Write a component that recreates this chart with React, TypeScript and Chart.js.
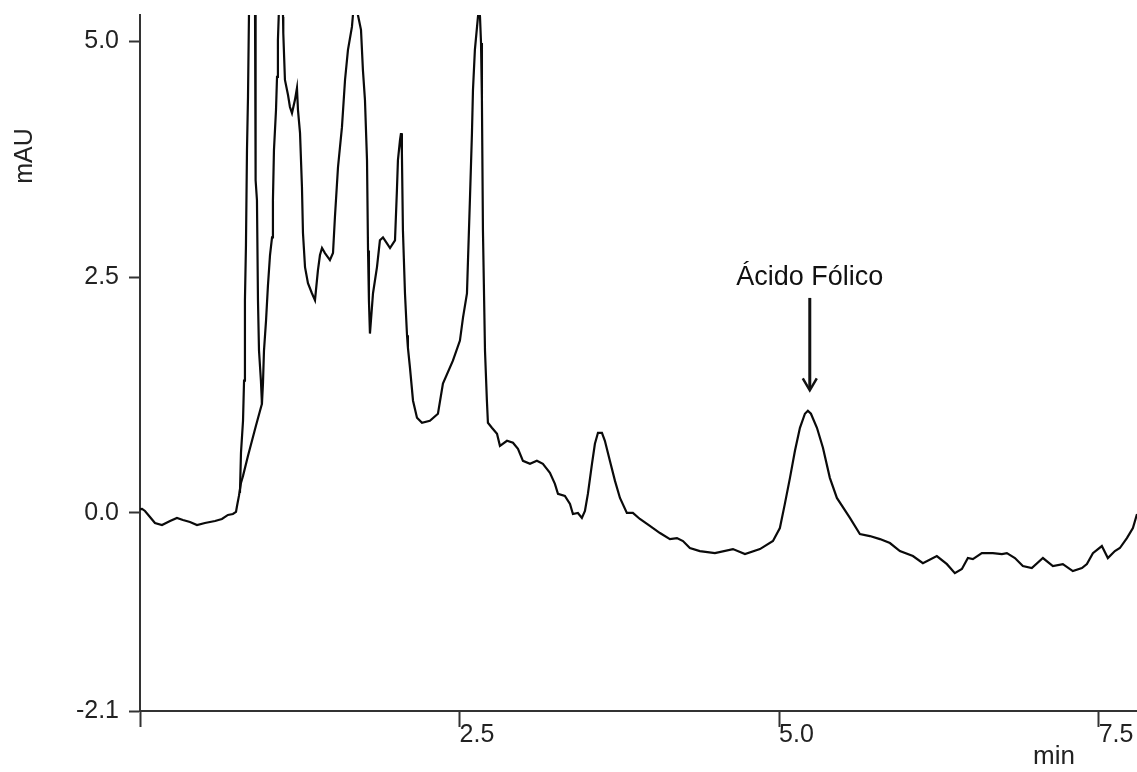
import React, { useEffect, useRef } from "react";
import { Chart, registerables } from "chart.js";

Chart.register(...registerables);

// Main chromatogram trace (retention time in min, absorbance in mAU)
const timeMain: number[] = [
  0.0, 0.016, 0.039, 0.078, 0.117, 0.172, 0.235, 0.289, 0.336, 0.391, 0.446, 0.508, 0.587, 0.641, 0.688, 0.727, 0.751, 0.759, 0.774, 0.79,
  0.806, 0.845, 0.876, 0.907, 0.939, 0.954,
  0.962, 0.97, 0.986, 1.001, 1.017, 1.033, 1.04, 1.048, 1.064, 1.072, 1.079, 1.087, 1.095, 1.111,
  1.119, 1.121, 1.134, 1.158, 1.173, 1.189, 1.212, 1.228, 1.236, 1.252, 1.267, 1.275, 1.291, 1.314, 1.345, 1.369,
  1.392, 1.408, 1.424, 1.447, 1.486, 1.51, 1.525, 1.549, 1.58, 1.604, 1.627, 1.658, 1.666, 1.682,
  1.705, 1.729, 1.744, 1.76, 1.776, 1.784, 1.791, 1.799, 1.823, 1.854, 1.877, 1.901, 1.932, 1.956, 1.995,
  2.01, 2.018, 2.034, 2.042, 2.049, 2.057, 2.073, 2.089, 2.096, 2.112, 2.136, 2.167, 2.206, 2.268, 2.331,
  2.37, 2.448, 2.503, 2.527, 2.558, 2.566, 2.581, 2.597, 2.605, 2.62, 2.644, 2.652, 2.66, 2.668, 2.675,
  2.683, 2.699, 2.714, 2.722, 2.753, 2.793, 2.816, 2.871, 2.918, 2.957, 2.996, 3.051, 3.105, 3.152, 3.207,
  3.246, 3.27, 3.324, 3.364, 3.387, 3.426, 3.457, 3.481, 3.504, 3.536, 3.559, 3.583, 3.614, 3.637, 3.676,
  3.716, 3.755, 3.809, 3.856, 3.911, 3.989, 4.068, 4.146, 4.201, 4.248, 4.302, 4.38, 4.498, 4.639, 4.733,
  4.85, 4.952, 5.006, 5.045, 5.085, 5.124, 5.163, 5.202, 5.225, 5.249, 5.296, 5.343, 5.397, 5.452, 5.554,
  5.632, 5.71, 5.789, 5.867, 5.945, 6.047, 6.125, 6.234, 6.313, 6.375, 6.43, 6.477, 6.516, 6.586, 6.672,
  6.743, 6.782, 6.845, 6.907, 6.977, 7.064, 7.142, 7.22, 7.298, 7.369, 7.408, 7.455, 7.525, 7.572, 7.627,
  7.666, 7.721, 7.768, 7.8,
];
const absMain: number[] = [
  0.04, 0.043, 0.021, -0.043, -0.106, -0.128, -0.085, -0.053, -0.074, -0.096, -0.128, -0.106, -0.085, -0.064, -0.021, -0.011, 0.011, 0.074, 0.181, 0.319,
  0.393, 0.606, 0.765, 0.925, 1.084, 1.158,
  1.371, 1.722, 2.04, 2.412, 2.731, 2.922, 3.316, 3.847, 4.272, 4.623, 5.016, 5.335, 5.6, 5.6,
  5.26, 5.09, 4.591, 4.431, 4.304, 4.24, 4.378, 4.506, 4.272, 4.027, 3.458, 2.969, 2.607, 2.437, 2.33, 2.256,
  2.573, 2.735, 2.809, 2.756, 2.682, 2.756, 3.135, 3.666, 4.091, 4.591, 4.91, 5.154, 5.28, 5.5,
  5.28, 5.122, 4.697, 4.378, 3.741, 2.784, 2.253, 1.902, 2.33, 2.607, 2.891, 2.922, 2.859, 2.809, 2.891,
  3.422, 3.741, 3.953, 4.027, 3.815, 2.997, 2.33, 1.884, 1.753, 1.541, 1.19, 1.01, 0.956, 0.978, 1.052,
  1.371, 1.615, 1.828, 2.072, 2.327, 2.678, 3.316, 4.027, 4.485, 4.91, 5.26, 5.36, 5.26, 4.984, 4.378,
  2.997, 1.722, 1.19, 0.956, 0.903, 0.84, 0.712, 0.765, 0.744, 0.68, 0.553, 0.521, 0.553, 0.521, 0.425,
  0.308, 0.202, 0.181, 0.096, -0.011, 0.0, -0.053, 0.021, 0.202, 0.521, 0.733, 0.85, 0.85, 0.765, 0.553,
  0.34, 0.159, 0.0, 0.0, -0.064, -0.138, -0.213, -0.277, -0.266, -0.298, -0.372, -0.404, -0.426, -0.383, -0.436,
  -0.383, -0.298, -0.16, 0.096, 0.372, 0.659, 0.903, 1.052, 1.084, 1.052, 0.903, 0.691, 0.372, 0.159, -0.053,
  -0.223, -0.245, -0.277, -0.319, -0.404, -0.457, -0.532, -0.457, -0.543, -0.638, -0.595, -0.478, -0.489, -0.426, -0.426,
  -0.436, -0.426, -0.478, -0.563, -0.584, -0.478, -0.563, -0.542, -0.616, -0.584, -0.542, -0.426, -0.351, -0.478, -0.404,
  -0.372, -0.266, -0.16, -0.011,
];

// Narrow first peak drawn over the rising edge
const timePeak1: number[] = [0.782, 0.79, 0.806, 0.814, 0.821, 0.829, 0.837, 0.845, 0.853, 0.86, 0.884, 0.9, 0.902, 0.907, 0.915, 0.923, 0.931, 0.946, 0.954];
const absPeak1: number[] = [0.213, 0.638, 0.978, 1.403, 2.256, 2.841, 3.847, 4.416, 5.34, 6.0, 6.0, 5.28, 4.378, 3.528, 3.316, 2.253, 1.722, 1.403, 1.158];

const xTicks: number[] = [0, 2.5, 5.0, 7.5];
const xTickLabels: string[] = ["", "2.5", "5.0", "7.5"];
const yTicks: number[] = [-2.1, 0.0, 2.5, 5.0];
const yTickLabels: string[] = ["-2.1", "0.0", "2.5", "5.0"];

const annotationText = "Ácido Fólico";
const annotationTime = 5.24;
const annotationTextAbs = 2.42;
const arrowTopAbs = 2.28;
const arrowTipAbs = 1.3;

const yTitle = "mAU";
const xTitle = "min";

const FONT = "'Liberation Sans', Arial, sans-serif";

export default function App() {
  const ref = useRef<HTMLCanvasElement | null>(null);

  useEffect(() => {
    if (!ref.current) return;
    const mainData = timeMain.map((t, i) => ({ x: t, y: absMain[i] }));
    const peakData = timePeak1.map((t, i) => ({ x: t, y: absPeak1[i] }));

    const overlay = {
      id: "overlay",
      afterDraw(chart: any) {
        const ctx = chart.ctx;
        const xs = chart.scales.x;
        const ys = chart.scales.y;
        ctx.save();
        ctx.fillStyle = "#111";
        ctx.strokeStyle = "#111";
        // annotation
        const ax = xs.getPixelForValue(annotationTime);
        ctx.font = `27px ${FONT}`;
        ctx.textAlign = "center";
        ctx.textBaseline = "alphabetic";
        ctx.fillText(annotationText, ax, ys.getPixelForValue(annotationTextAbs));
        const y0 = ys.getPixelForValue(arrowTopAbs);
        const y1 = ys.getPixelForValue(arrowTipAbs);
        ctx.lineWidth = 3;
        ctx.beginPath();
        ctx.moveTo(ax, y0);
        ctx.lineTo(ax, y1 - 2);
        ctx.stroke();
        ctx.lineWidth = 2.5;
        ctx.beginPath();
        ctx.moveTo(ax - 7, y1 - 12);
        ctx.lineTo(ax, y1);
        ctx.lineTo(ax + 7, y1 - 12);
        ctx.stroke();
        // axis titles
        ctx.fillStyle = "#222";
        ctx.font = `25px ${FONT}`;
        ctx.textAlign = "center";
        ctx.textBaseline = "middle";
        ctx.save();
        ctx.translate(25, 156);
        ctx.rotate(-Math.PI / 2);
        ctx.fillText(yTitle, 0, 0);
        ctx.restore();
        ctx.font = `26px ${FONT}`;
        ctx.fillText(xTitle, 1054, 757);
        ctx.restore();
      },
    };

    const chart = new Chart(ref.current, {
      type: "scatter",
      data: {
        datasets: [
          {
            data: mainData,
            showLine: true,
            borderColor: "#0a0a0a",
            borderWidth: 2.2,
            pointRadius: 0,
            tension: 0,
          },
          {
            data: peakData,
            showLine: true,
            borderColor: "#0a0a0a",
            borderWidth: 2.2,
            pointRadius: 0,
            tension: 0,
          },
        ],
      },
      options: {
        animation: false,
        responsive: false,
        maintainAspectRatio: false,
        layout: { padding: { top: 15, left: 0, right: 0, bottom: 0 } },
        plugins: { legend: { display: false }, tooltip: { enabled: false } },
        scales: {
          x: {
            type: "linear",
            position: "bottom",
            min: 0,
            max: 7.8,
            afterBuildTicks: (s: any) => {
              s.ticks = xTicks.map((v) => ({ value: v }));
            },
            afterFit: (s: any) => {
              s.height = 61;
              s.paddingLeft = 0;
              s.paddingRight = 0;
            },
            ticks: {
              autoSkip: false,
              maxRotation: 0,
              align: "start",
              padding: -7,
              color: "#222",
              font: { family: FONT, size: 25 },
              callback: (v: any) => {
                const i = xTicks.indexOf(Number(v));
                return i >= 0 ? xTickLabels[i] : "";
              },
            },
            grid: { drawOnChartArea: false, drawTicks: true, tickLength: 16, tickColor: "#333", tickWidth: 2 },
            border: { display: true, color: "#333", width: 2 },
          },
          y: {
            type: "linear",
            position: "left",
            min: -2.1,
            max: 5.28,
            afterBuildTicks: (s: any) => {
              s.ticks = yTicks.map((v) => ({ value: v }));
            },
            afterFit: (s: any) => {
              s.width = 140;
              s.paddingTop = 0;
              s.paddingBottom = 0;
            },
            ticks: {
              autoSkip: false,
              padding: 10,
              color: "#222",
              font: { family: FONT, size: 25 },
              callback: (v: any) => {
                const i = yTicks.indexOf(Number(v));
                return i >= 0 ? yTickLabels[i] : "";
              },
            },
            grid: { drawOnChartArea: false, drawTicks: true, tickLength: 11, tickColor: "#333", tickWidth: 2 },
            border: { display: true, color: "#333", width: 2 },
          },
        },
      },
      plugins: [overlay],
    } as any);

    return () => chart.destroy();
  }, []);

  return (
    <div style={{ position: "fixed", left: 0, top: 0, width: 1137, height: 772, background: "#fff" }}>
      <canvas ref={ref} width={1137} height={772} style={{ display: "block", width: 1137, height: 772 }} />
    </div>
  );
}
